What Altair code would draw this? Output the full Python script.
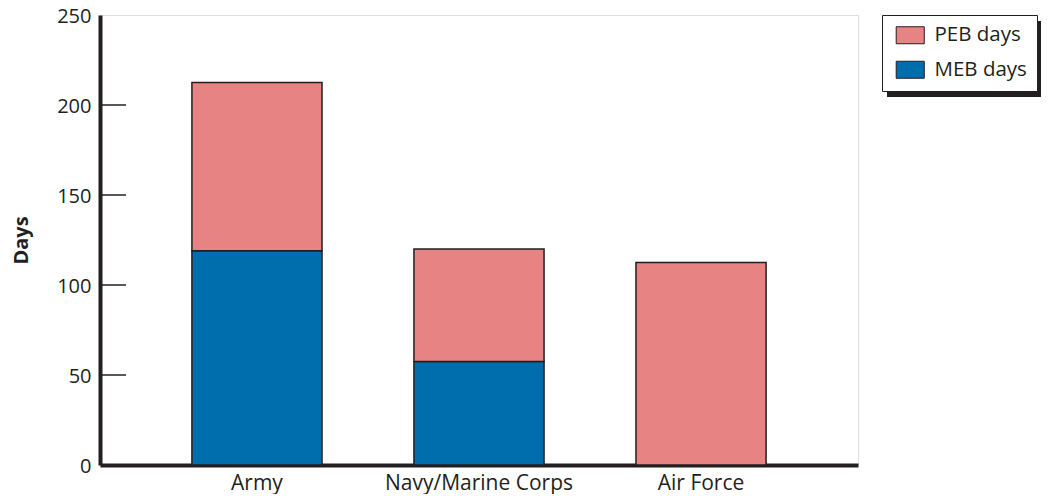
import altair as alt
import pandas as pd

services = ["Army", "Navy/Marine Corps", "Air Force"]
meb_days = [119, 57.5, 0]
peb_days = [93.5, 62.5, 112.5]
series = ["PEB days", "MEB days"]
colors = ["#e78383", "#006ead"]
y_ticks = [0, 50, 100, 150, 200, 250]
inner_ticks = [50, 100, 150, 200]

rows = []
for s, m, p in zip(services, meb_days, peb_days):
    rows.append({"service": s, "type": "MEB days", "days": m, "order": 0})
    rows.append({"service": s, "type": "PEB days", "days": p, "order": 1})
df = pd.DataFrame(rows)

FONT = "Open Sans"
DARK = "#231f20"
W, H = 758, 450

bars = alt.Chart(df).mark_bar(stroke=DARK, strokeWidth=1.5).encode(
    x=alt.X(
        "service:N",
        sort=services,
        title=None,
        scale=alt.Scale(paddingInner=0.414, paddingOuter=0.414),
        axis=alt.Axis(
            labelAngle=0, ticks=False, domainWidth=4, domainColor=DARK,
            labelFontSize=21, labelColor=DARK, labelFont=FONT, labelPadding=7,
            labelLimit=400,
        ),
    ),
    y=alt.Y(
        "days:Q",
        stack="zero",
        title="Days",
        scale=alt.Scale(domain=[0, 250], nice=False),
        axis=alt.Axis(
            values=y_ticks, ticks=False, grid=False, domainWidth=4, domainColor=DARK,
            labelFontSize=20, labelColor=DARK, labelFont=FONT, labelPadding=9,
            labelOffset=1.5,
            titleFont=FONT, titleFontSize=20, titleFontWeight="bold", titleColor=DARK,
            titlePadding=25,
        ),
    ),
    color=alt.Color(
        "type:N",
        scale=alt.Scale(domain=series, range=colors),
        legend=alt.Legend(
            title=None, orient="none", legendX=782, legendY=0,
            symbolType="M-0.71,-1H2.59V1H-0.71Z", symbolSize=289,
            symbolStrokeColor=DARK, symbolStrokeWidth=1,
            labelFont=FONT, labelFontSize=20.5, labelColor=DARK, labelOffset=22,
            padding=10, rowPadding=12.5,
            strokeColor=DARK, fillColor="white",
        ),
    ),
    order=alt.Order("order:Q"),
)

ticks = alt.Chart(pd.DataFrame({"v": inner_ticks})).mark_rule(color=DARK, strokeWidth=1.5).encode(
    y="v:Q", x=alt.value(0), x2=alt.value(26)
)

shadow = alt.Chart(pd.DataFrame({"a": [0]})).mark_rect(color=DARK).encode(
    x=alt.value(787), x2=alt.value(942), y=alt.value(6), y2=alt.value(82)
)

chart = alt.layer(shadow, bars, ticks).properties(
    width=W, height=H,
    autosize=alt.AutoSizeParams(type="none"),
    padding={"left": 92, "top": 7, "right": 183, "bottom": 29},
).configure_view(stroke=DARK, strokeWidth=2).configure(font=FONT)

chart.save("out.html", embed_options={"renderer": "svg", "actions": False})
